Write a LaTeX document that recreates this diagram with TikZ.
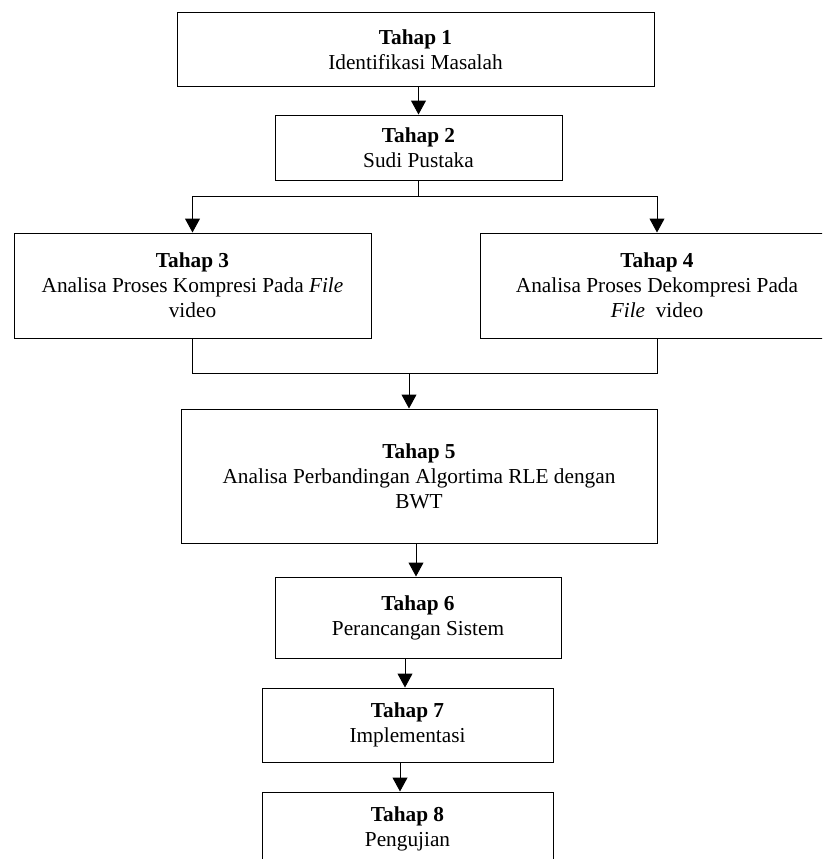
\documentclass[tikz,border=0pt]{standalone}
\usepackage{fontspec}
\setmainfont{Liberation Serif}
\usetikzlibrary{arrows.meta}

\begin{document}
\begin{tikzpicture}[%
  x=1pt, y=-1pt,
  box/.style = {draw, line width=1pt, inner sep=0pt, align=center,
    font=\fontsize{21.3}{25}\selectfont},
  line/.style = {line width=1pt},
  >={Triangle[length=14pt,width=15pt]},
]
  \useasboundingbox (0,0) rectangle (822,859);
  \clip (0,0) rectangle (822,859);

  \node[box, minimum width=477pt, minimum height=73pt] (t1) at (415.5,49.5)
    {\textbf{Tahap 1}\\Identifikasi Masalah};
  \node[box, minimum width=287pt, minimum height=65pt] (t2) at (418.5,147.5)
    {\textbf{Tahap 2}\\Sudi Pustaka};
  \node[box, minimum width=357pt, minimum height=105pt] (t3) at (192.5,285.5)
    {\textbf{Tahap 3}\\Analisa Proses Kompresi Pada \textit{File}\\video};
  \node[box, minimum width=354pt, minimum height=105pt] (t4) at (657,285.5)
    {\textbf{Tahap 4}\\Analisa Proses Dekompresi Pada\\\textit{File}\ \ video};
  \node[box, minimum width=476pt, minimum height=134pt] (t5) at (419,476)
    {\textbf{Tahap 5}\\Analisa Perbandingan Algortima RLE dengan\\BWT};
  \node[box, minimum width=286pt, minimum height=81pt] (t6) at (418,617.5)
    {\textbf{Tahap 6}\\Perancangan Sistem};
  \node[box, minimum width=291pt, minimum height=74pt] (t7) at (407.5,725)
    {\textbf{Tahap 7}\\Implementasi};
  \node[box, minimum width=291pt, minimum height=74pt] (t8) at (407.5,829)
    {\textbf{Tahap 8}\\Pengujian};

  \coordinate (S) at (418.5,196);
  \coordinate (M) at (409,373);

  \draw[line,->] (t1.south -| t2.north) -- (t2.north);
  \draw[line] (t2.south) -- (S);
  \draw[line,->] (S) -| (t3.north);
  \draw[line,->] (S) -| (t4.north);
  \draw[line] (t3.south) |- (M);
  \draw[line] (t4.south) |- (M);
  \draw[line,->] (M) -- (M |- t5.north);
  \draw[line,->] ([xshift=-2pt]t6.north |- t5.south) -- ([xshift=-2pt]t6.north);
  \draw[line,->] ([xshift=-2.5pt]t7.north |- t6.south) -- ([xshift=-2.5pt]t7.north);
  \draw[line,->] ([xshift=-7.5pt]t8.north |- t7.south) -- ([xshift=-7.5pt]t8.north);

\end{tikzpicture}
\end{document}
